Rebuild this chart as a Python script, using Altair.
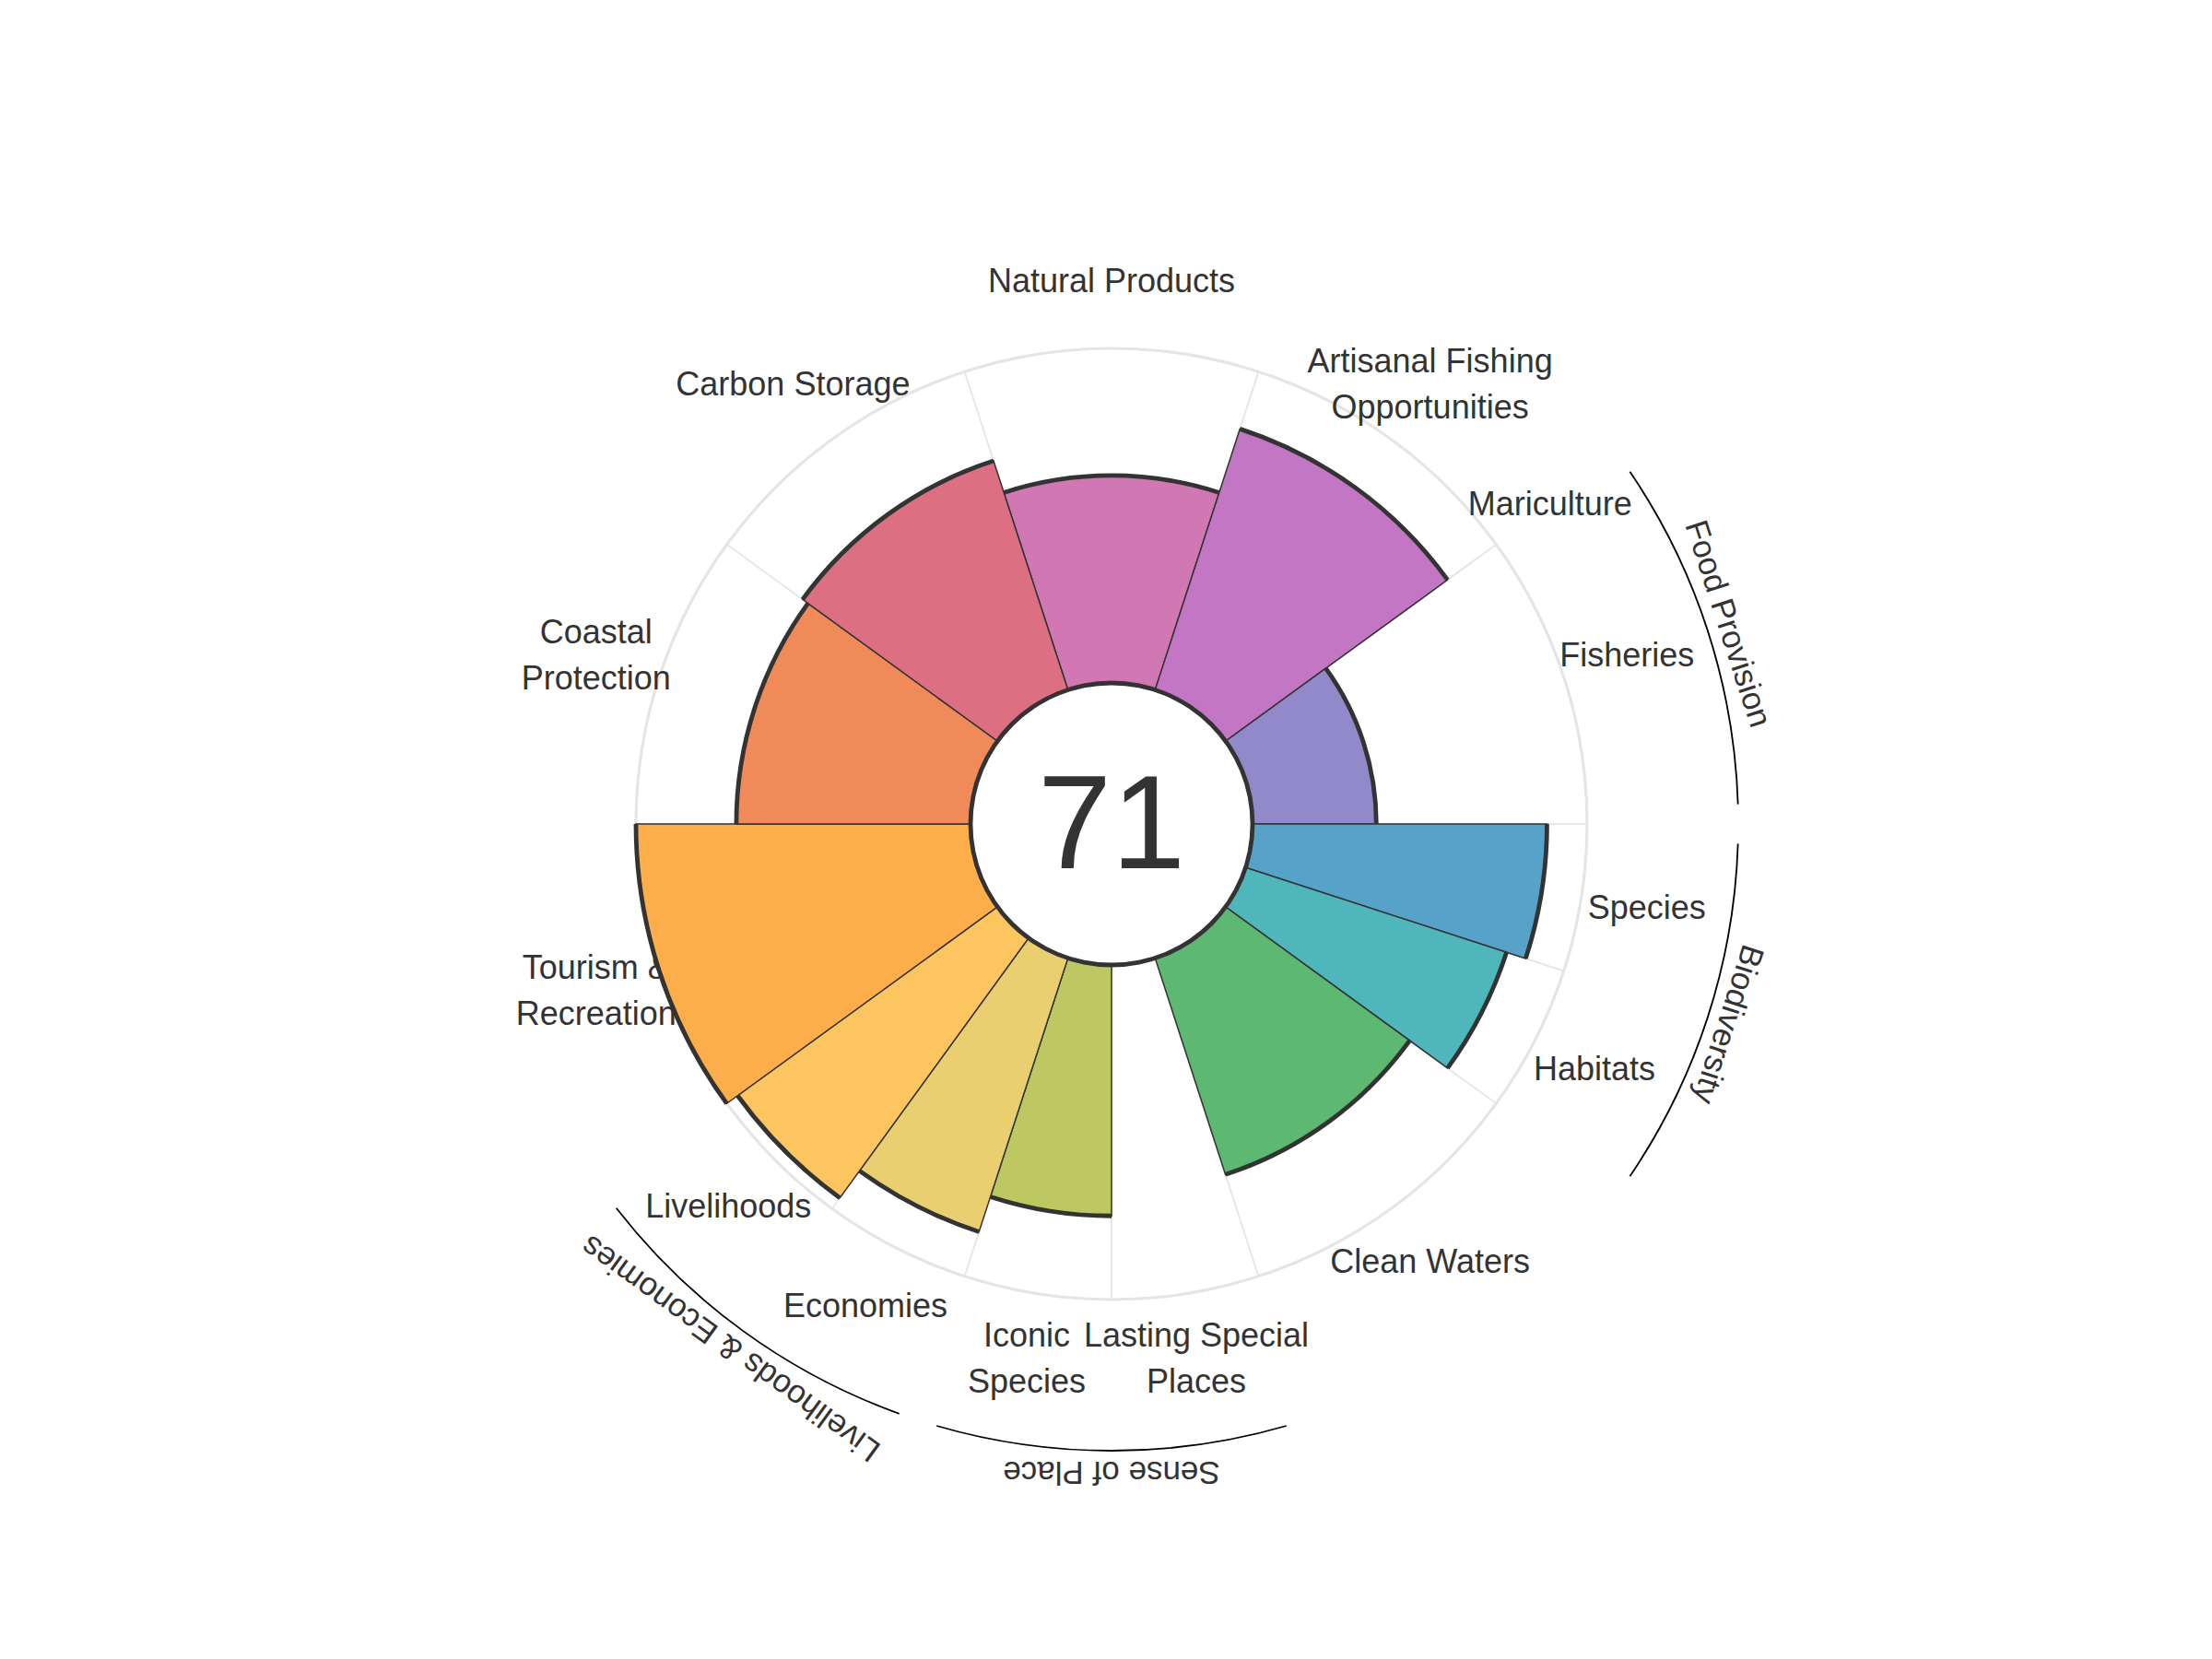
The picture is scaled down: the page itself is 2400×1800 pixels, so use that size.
import altair as alt
import pandas as pd
import numpy as np

# ---- data (clockwise from the top, starting at Natural Products) ----
labels = ["Natural Products", "Artisanal Fishing\nOpportunities", "Mariculture", "Fisheries",
          "Species", "Habitats", "Clean Waters", "Lasting Special\nPlaces", "Iconic\nSpecies",
          "Economies", "Livelihoods", "Tourism &\nRecreation", "Coastal\nProtection", "Carbon Storage"]
weights = [1, 1, 0, 1, 0.5, 0.5, 1, 0.5, 0.5, 0.5, 0.5, 1, 1, 1]
scores = [62, 82, 0, 37, 88, 82, 68, 0, 75, 86, 96, 100, 70, 72]
colors = ["#d077b4", "#c376c3", "#a087c6", "#9189c9", "#57a2c9", "#4fb7bb", "#5db872",
          "#a9c46a", "#bdc863", "#e9cf6f", "#fdc55f", "#fdae4b", "#f08a58", "#dd6f82"]
groups = ["", "", "Food Provision", "Food Provision", "Biodiversity", "Biodiversity", "",
          "Sense of Place", "Sense of Place", "Livelihoods & Economies", "Livelihoods & Economies",
          "", "", ""]
overall = 71

# ---- layout constants ----
CX, CY = 1198, 886
R0, R1 = 153, 516
LABEL_R = 588
GROUP_ARC_R = 680
GROUP_LABEL_R = 703
START = -18.0
UNIT = 36.0
TEXT = "#333333"
FONT = "Liberation Sans"
LINE_H = 50

cum = np.concatenate([[0], np.cumsum(weights)])
df = pd.DataFrame({
    "label": labels,
    "score": scores,
    "color": colors,
    "group": groups,
    "t0": START + UNIT * cum[:-1],
    "t1": START + UNIT * cum[1:],
})
df["mid"] = (df["t0"] + df["t1"]) / 2
df["multi"] = df["label"].str.contains("\n")
bars_df = df[df["score"] > 0].copy()

g = df[df["group"] != ""].groupby("group", sort=False).agg(t0=("t0", "min"), t1=("t1", "max")).reset_index()
g["mid"] = (g["t0"] + g["t1"]) / 2
g["rot"] = g["mid"] % 360

theta_scale = alt.Scale(domain=[0, 360], range=[0, 2 * np.pi])
rad_scale = alt.Scale(type="linear", domain=[0, 100], range=[R0, R1])
color_scale = alt.Scale(domain=list(bars_df["label"]), range=list(bars_df["color"]))

one = pd.DataFrame({"score": [overall]})

grid = alt.Chart(df).mark_arc(
    x=CX, y=CY, radius=R1, radius2=R0, fill="white", fillOpacity=0,
    stroke="#e6e6e6", strokeWidth=1.5
).encode(
    theta=alt.Theta("t0:Q", scale=theta_scale, stack=None),
    theta2="t1:Q",
)

outer_ring = alt.Chart(one).mark_arc(
    x=CX, y=CY, radius=R1 + 1.6, radius2=R1 - 1.6, color="#e5e5e5"
).encode(theta=alt.value(0), theta2=alt.value(2 * np.pi))

label_style = dict(x=CX, y=CY, radius=LABEL_R, fontSize=36, font=FONT, color=TEXT,
                   align="center", baseline="middle", lineBreak="\n", lineHeight=LINE_H)

labels_single = alt.Chart(df[~df["multi"]]).mark_text(**label_style).encode(
    theta=alt.Theta("mid:Q", scale=theta_scale, stack=None),
    text="label:N",
)
labels_multi = alt.Chart(df[df["multi"]]).mark_text(dy=-LINE_H / 2, **label_style).encode(
    theta=alt.Theta("mid:Q", scale=theta_scale, stack=None),
    text="label:N",
)

bars = alt.Chart(bars_df).mark_arc(
    x=CX, y=CY, stroke="#333333", strokeWidth=1.5
).encode(
    theta=alt.Theta("t0:Q", scale=theta_scale, stack=None),
    theta2="t1:Q",
    radius=alt.Radius("score:Q", scale=rad_scale),
    radius2=alt.datum(0),
    color=alt.Color("label:N", scale=color_scale, legend=None),
)

edges = alt.Chart(bars_df).mark_arc(
    x=CX, y=CY, color="#333333", radiusOffset=2.4, radius2Offset=-2.4
).encode(
    theta=alt.Theta("t0:Q", scale=theta_scale, stack=None),
    theta2="t1:Q",
    radius=alt.Radius("score:Q", scale=rad_scale),
    radius2="score:Q",
)

hole = alt.Chart(one).mark_arc(
    x=CX, y=CY, radius=R0 + 2.4, radius2=R0 - 2.4, color="#333333"
).encode(theta=alt.value(0), theta2=alt.value(2 * np.pi))

score_text = alt.Chart(one).mark_text(
    x=CX, y=CY + 5, fontSize=144, font=FONT, color=TEXT, align="center", baseline="middle"
).encode(text="score:Q")

group_arcs = alt.Chart(g).mark_arc(
    x=CX, y=CY, radius=GROUP_ARC_R + 0.9, radius2=GROUP_ARC_R - 0.9, color="#000000",
    thetaOffset=0.0314, theta2Offset=-0.0314
).encode(
    theta=alt.Theta("t0:Q", scale=theta_scale, stack=None),
    theta2="t1:Q",
)

group_labels = alt.Chart(g).mark_text(
    x=CX, y=CY, radius=GROUP_LABEL_R, fontSize=35, font=FONT, color=TEXT,
    align="center", baseline="middle"
).encode(
    theta=alt.Theta("mid:Q", scale=theta_scale, stack=None),
    angle=alt.Angle("rot:Q", scale=None),
    text="group:N",
)

chart = alt.layer(
    grid, outer_ring, labels_single, labels_multi, bars, edges, hole, score_text,
    group_arcs, group_labels
).properties(
    width=2384, height=1784, padding=0, autosize=alt.AutoSizeParams(type="none")
).configure_view(stroke=None)

chart.save("out.html", embed_options={"renderer": "svg", "actions": False})
